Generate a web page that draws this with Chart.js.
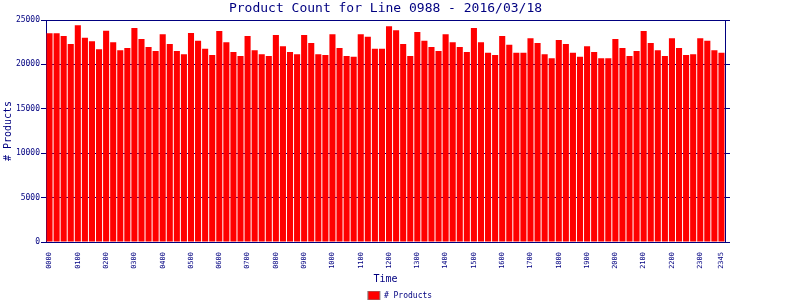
<!DOCTYPE html>
<html>
<head>
<meta charset="utf-8">
<script src="https://cdn.jsdelivr.net/npm/chart.js@4/dist/chart.umd.min.js"></script>
<style>
  body { margin: 0; background: #fff; }
</style>
</head>
<body>
<canvas id="myChart" width="800" height="300"></canvas>
<script>
// 15 minute slots, 0000 .. 2345
const times = [];
for (let h = 0; h < 24; h++) {
   for (let m = 0; m < 60; m += 15) {
      times.push(String(h).padStart(2, '0') + String(m).padStart(2, '0'));
   }
}

const products = [
   23500, 23500, 23200, 22300, 24400, 23000, 22600, 21700,
   23800, 22500, 21600, 21850, 24100, 22850, 21950, 21500,
   23400, 22300, 21500, 21150, 23550, 22650, 21750, 21050,
   23750, 22500, 21400, 20950, 23200, 21600, 21150, 20950,
   23300, 22050, 21400, 21150, 23300, 22400, 21150, 21050,
   23400, 21850, 20950, 20850, 23400, 23100, 21750, 21750,
   24300, 23850, 22300, 20950, 23650, 22650, 21950, 21500,
   23400, 22500, 21950, 21400, 24100, 22500, 21300, 21050,
   23200, 22200, 21300, 21300, 22950, 22400, 21150, 20700,
   22750, 22300, 21300, 20850, 22050, 21400, 20700, 20700,
   22850, 21850, 20950, 21500, 23750, 22400, 21600, 20950,
   22950, 21850, 21050, 21150, 22950, 22650, 21600, 21300
];

const yTicks = [0, 5000, 10000, 15000, 20000, 25000];

const navy = '#000080';
const mono = 'DejaVu Sans Mono';
const padBottom = -10;

// title centred over the plot area, not the canvas
const titlePlugin = {
   id: 'plotTitle',
   afterDraw(chart) {
      const c = chart.ctx;
      const a = chart.chartArea;
      c.save();
      c.fillStyle = navy;
      c.font = '13px "' + mono + '"';
      c.textAlign = 'center';
      c.textBaseline = 'middle';
      c.fillText('Product Count for Line 0988 - 2016/03/18', (a.left + a.right) / 2, 9);
      c.restore();
   }
};

const ctx = document.getElementById('myChart').getContext('2d');
const myChart = new Chart(ctx, {
   type: 'bar',
   data: {
      labels: times,
      datasets: [{
         label: '# Products',
         data: products,
         backgroundColor: '#ff0000',
         borderWidth: 0,
         barPercentage: 0.86,
         categoryPercentage: 1.0
      }]
   },
   options: {
      responsive: false,
      animation: false,
      devicePixelRatio: 1,
      layout: { padding: { top: 20, left: 0, right: 0, bottom: padBottom } },
      plugins: {
         title: { display: false },
         tooltip: { enabled: false },
         legend: {
            position: 'bottom',
            labels: {
               boxWidth: 12,
               boxHeight: 9,
               padding: 0,
               color: navy,
               font: { family: mono, size: 8 },
               generateLabels: function(chart) {
                  return [{
                     text: '# Products',
                     fillStyle: '#ff0000',
                     strokeStyle: '#808080',
                     lineWidth: 1,
                     fontColor: navy,
                     datasetIndex: 0
                  }];
               }
            }
         }
      },
      scales: {
         x: {
            grid: { display: false },
            border: { color: navy, width: 1 },
            afterFit: function(scale) {
               const lh = scale.chart.legend ? scale.chart.legend.height : 10;
               scale.height = 300 - padBottom - 242 - lh;
            },
            ticks: {
               autoSkip: false,
               maxRotation: 90,
               minRotation: 90,
               padding: 2,
               color: navy,
               font: { family: mono, size: 7 },
               callback: function(v, i) {
                  return (i % 4 === 0 || i === times.length - 1) ? times[i] : '';
               }
            },
            title: {
               display: true,
               text: 'Time',
               color: navy,
               font: { family: mono, size: 10 },
               padding: { top: 4, bottom: 6 }
            }
         },
         y: {
            position: 'left',
            min: 0,
            max: 25000,
            afterBuildTicks: function(scale) {
               scale.ticks = yTicks.map(v => ({ value: v }));
            },
            afterFit: function(scale) { scale.width = 46; },
            grid: { color: navy, lineWidth: 1, tickLength: 5 },
            border: { color: navy, width: 1 },
            ticks: {
               padding: 1,
               color: navy,
               font: { family: mono, size: 8 },
               callback: function(v) { return String(v); }
            },
            title: {
               display: true,
               text: '# Products',
               color: navy,
               font: { family: mono, size: 10 },
               padding: { top: 2, bottom: 0 }
            }
         },
         y2: {
            position: 'right',
            min: 0,
            max: 25000,
            afterBuildTicks: function(scale) {
               scale.ticks = yTicks.map(v => ({ value: v }));
            },
            afterFit: function(scale) { scale.width = 75; },
            grid: { drawOnChartArea: false, color: navy, tickLength: 5 },
            border: { color: navy, width: 1 },
            ticks: { display: true, color: 'rgba(0,0,0,0)', font: { size: 1 } }
         }
      }
   },
   plugins: [titlePlugin]
});
</script>
</body>
</html>
